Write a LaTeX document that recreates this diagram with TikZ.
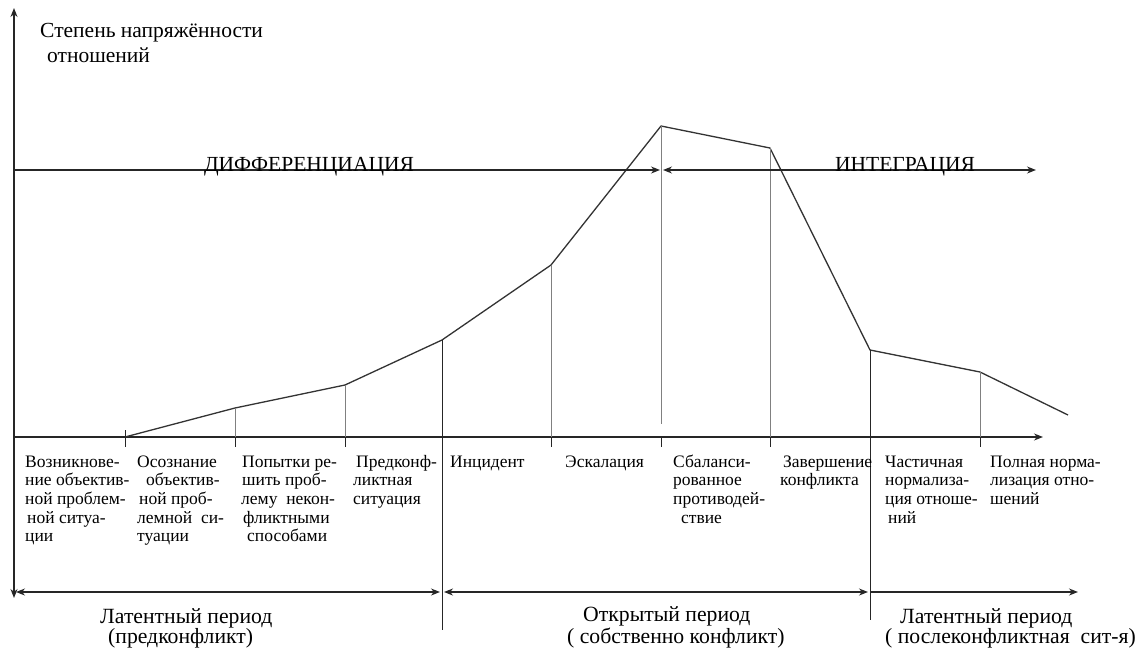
\documentclass[tikz,border=0pt]{standalone}
\usepackage{fontspec}
\setmainfont{Liberation Serif}
\usetikzlibrary{arrows.meta}

\tikzset{
	axis/.style = {line width = 1.3pt, black!85},
	guide/.style = {line width = 0.9pt, black!50},
	arr/.style = {-{Stealth[length=9pt, width=7pt]}},
	darr/.style = {{Stealth[length=9pt, width=7pt]}-{Stealth[length=9pt, width=7pt]}},
	stage/.style = {anchor = base west, align = left, inner sep = 0pt,
		font = \fontsize{17.5}{18.7}\selectfont},
	period/.style = {anchor = base west, align = left, inner sep = 0pt,
		font = \fontsize{21.7}{20}\selectfont}
}

\begin{document}
\begin{tikzpicture}[x = 1pt, y = -1pt]
	\useasboundingbox (0,0) rectangle (1136,651);
	\def\base{437};
	\def\tick{447};
	\def\lh{18.7};
	\def\top{467};

	% axes
	\coordinate (ytop) at (14,8);
	\coordinate (ybot) at (14,598);
	\coordinate (o) at (14,\base);
	\coordinate (xend) at (1043,\base);
	\draw [axis, darr] (ybot) -- (ytop);
	\draw [axis, arr] (o) -- (xend);
	\node [period, font = \fontsize{21.5}{25}\selectfont] (ylab) at (40,62)
		{Степень напряжённости\\\hspace{7pt}отношений};

	% curve of tension
	\coordinate (p0) at (125,\base);
	\coordinate (p1) at (235,408);
	\coordinate (p2) at (345,385);
	\coordinate (p3) at (442,340);
	\coordinate (p4) at (551,265);
	\coordinate (p5) at (661,126);
	\coordinate (p6) at (770,148);
	\coordinate (p7) at (870,350);
	\coordinate (p8) at (980,372);
	\coordinate (p9) at (1068,415);
	\draw [line width = 1.3pt, black!80, line join = round]
		(p0) -- (p1) -- (p2) -- (p3) -- (p4) -- (p5) -- (p6) -- (p7) -- (p8) -- (p9);

	% guides down to the axis
	\foreach \p in {p1, p2, p4, p6, p8}
		\draw [guide] (\p) -- (\p |- o);
	\draw [guide] (p5) -- ++(0,298);
	\foreach \p in {p1, p2, p4, p5, p6, p8}
		\draw [axis, line width = 1pt] (\p |- o) -- ++(0,10);
	\draw [axis, line width = 1pt] (125,430) -- (125,\tick);

	% long borders of the periods
	\coordinate (b1) at (442,630);
	\coordinate (b2) at (870,620);
	\draw [axis, line width = 1pt] (p3) -- (b1);
	\draw [axis, line width = 1pt] (p7) -- (b2);

	% differentiation / integration
	\coordinate (d0) at (14,170);
	\coordinate (d1) at (660,170);
	\coordinate (d2) at (663,170);
	\coordinate (d3) at (1036,170);
	\draw [axis, arr] (d0) -- (d1);
	\draw [axis, darr] (d2) -- (d3);
	\node [anchor = base, inner sep = 0pt, font = \fontsize{21.5}{20}\selectfont]
		(diff) at (309,171) {ДИФФЕРЕНЦИАЦИЯ};
	\node [anchor = base, inner sep = 0pt, font = \fontsize{21.5}{20}\selectfont]
		(integ) at (905,171) {ИНТЕГРАЦИЯ};

	% stages (anchored at the baseline of the last line)
	\node [stage] (s1) at (25,{\top+4*\lh}) {Возникнове-\\ние объектив-\\ной проблем-\\\hspace{2pt}ной ситуа-\\ции};
	\node [stage] (s2) at (137,{\top+4*\lh}) {Осознание\\\hspace{9pt}объектив-\\\hspace{2pt}ной проб-\\лемной\ \ си-\\туации};
	\node [stage] (s3) at (241,{\top+4*\lh}) {\hspace{1pt}Попытки ре-\\\hspace{1pt}шить проб-\\лему\ \ некон-\\\hspace{2pt}фликтными\\\hspace{6pt}способами};
	\node [stage] (s4) at (353,{\top+2*\lh}) {\hspace{3pt}Предконф-\\ликтная\\ситуация};
	\node [stage] (s5) at (450,\top) {Инцидент};
	\node [stage] (s6) at (565,\top) {Эскалация};
	\node [stage] (s7) at (673,{\top+3*\lh}) {Сбаланси-\\рованное\\противодей-\\\hspace{8pt}ствие};
	\node [stage] (s8) at (780,{\top+\lh}) {\hspace{3pt}Завершение\\конфликта};
	\node [stage] (s9) at (885,{\top+3*\lh}) {Частичная\\нормализа-\\ция отноше-\\\hspace{3pt}ний};
	\node [stage] (s10) at (990,{\top+2*\lh}) {Полная норма-\\лизация отно-\\шений};

	% periods
	\coordinate (q0) at (16,592);
	\coordinate (q1) at (440,592);
	\coordinate (q2) at (444,592);
	\coordinate (q3) at (868,592);
	\coordinate (q4) at (870,592);
	\coordinate (q5) at (1078,592);
	\draw [axis, darr] (q0) -- (q1);
	\draw [axis, darr] (q2) -- (q3);
	\draw [axis, arr] (q4) -- (q5);
	\node [period] (lat1) at (100,643) {Латентный период\\\hspace{8pt}(предконфликт)};
	\node [period] (open) at (567,643) {\hspace{16pt}Открытый период\\( собственно конфликт)};
	\node [period] (lat2) at (885,643) {\hspace{15pt}Латентный период\\( послеконфликтная\ \ сит-я)};
\end{tikzpicture}
\end{document}
